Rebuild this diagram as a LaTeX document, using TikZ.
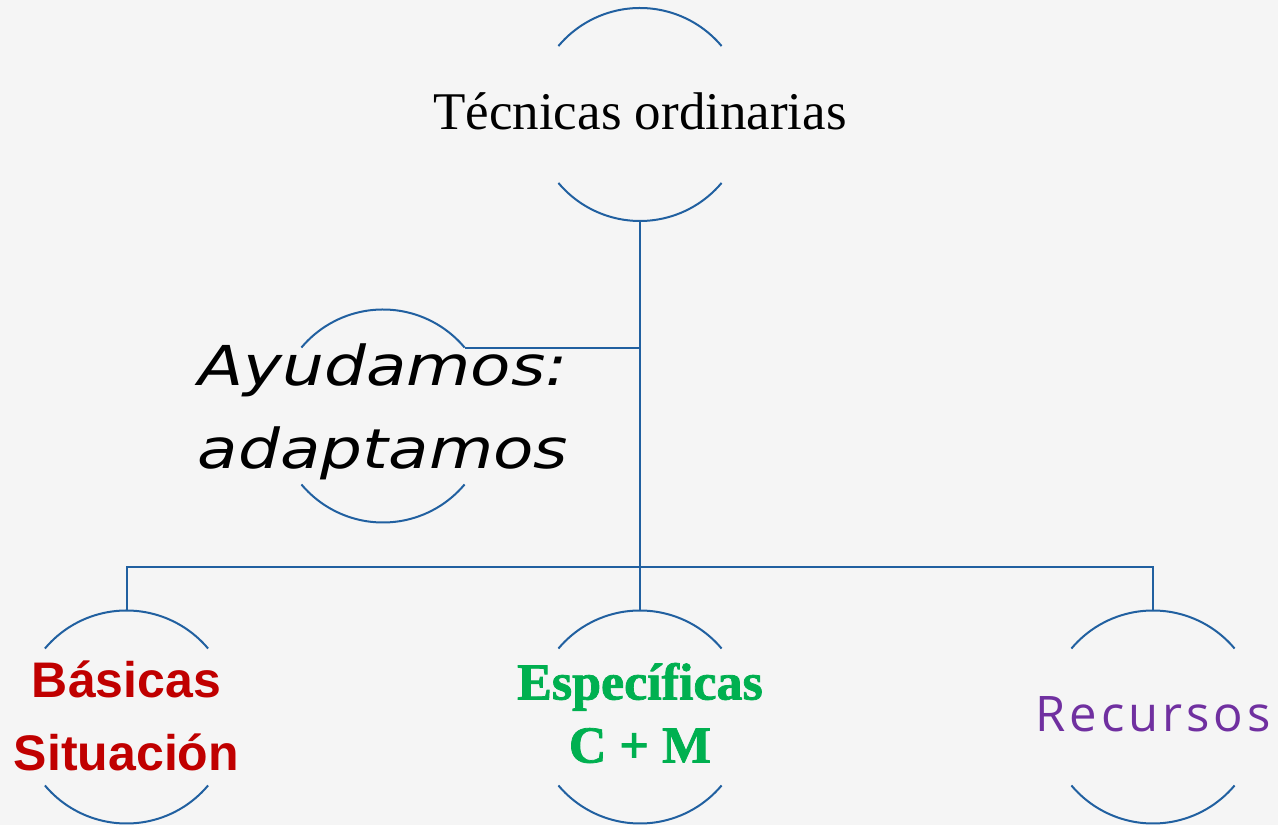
\documentclass[tikz,border=0pt]{standalone}
\usepackage{fontspec}
\setmainfont{Liberation Serif}
\newfontfamily\serfont{Liberation Serif}
\newfontfamily\espfont{Liberation Serif}[FakeBold=1.5]
\newfontfamily\handfont{DejaVu Sans}[FakeStretch=1.2]
\newfontfamily\basfont{Liberation Sans}
\newfontfamily\recfont{Open Sans}[LetterSpace=8]
\definecolor{bgc}{RGB}{245,245,245}
\definecolor{linec}{RGB}{33,96,160}
\definecolor{redc}{RGB}{192,0,0}
\definecolor{greenc}{RGB}{0,176,80}
\definecolor{purplec}{RGB}{112,48,160}
\newcommand\ringarcs[1]{%
  \draw[arcline] (#1.40) arc[start angle=40,end angle=140,radius=106.5pt];
  \draw[arcline] (#1.220) arc[start angle=220,end angle=320,radius=106.5pt];}
\begin{document}
\begin{tikzpicture}[x=1pt,y=1pt,
  ring/.style={circle,minimum size=213pt,inner sep=0pt,outer sep=0pt,draw=none},
  arcline/.style={draw=linec,line width=2pt},
  conn/.style={draw=linec,line width=2pt},
  lbl/.style={inner sep=0pt,align=center}]
\useasboundingbox (0,0) rectangle (1278,825);
\fill[bgc] (0,0) rectangle (1278,825);
% rings
\node[ring] (top) at (640,710.5) {};
\node[ring] (ayu) at (383,409) {};
\node[ring] (bas) at (126.5,108) {};
\node[ring] (esp) at (640,108) {};
\node[ring] (rec) at (1153,108) {};
\ringarcs{top}
\ringarcs{ayu}
\ringarcs{bas}
\ringarcs{esp}
\ringarcs{rec}
% connectors
\coordinate (bus) at (640,258);
\draw[conn] (top.south) -- (esp.north);
\draw[conn] (ayu.40) -- (ayu.40 -| top.south);
\draw[conn] (bas.north) |- (bus) -| (rec.north);
% texts
\node[lbl,anchor=base,font=\serfont\fontsize{53}{60}\selectfont] (toptext) at (640,695) {Técnicas ordinarias};
\node[lbl,font=\handfont\itshape\fontsize{55}{83}\selectfont] (ayutext) at (383,413) {Ayudamos:\\adaptamos};
\node[lbl,text=redc,font=\basfont\bfseries\fontsize{50}{73}\selectfont] (bastext) at (126.5,109) {Básicas\\Situación};
\node[lbl,text=greenc,font=\espfont\bfseries\fontsize{52}{63}\selectfont] (esptext) at (640,112) {Específicas\\C + M};
\node[lbl,anchor=base,text=purplec,font=\recfont\fontsize{49}{55}\selectfont] (rectext) at (1153,93) {Recursos};
\end{tikzpicture}
\end{document}
